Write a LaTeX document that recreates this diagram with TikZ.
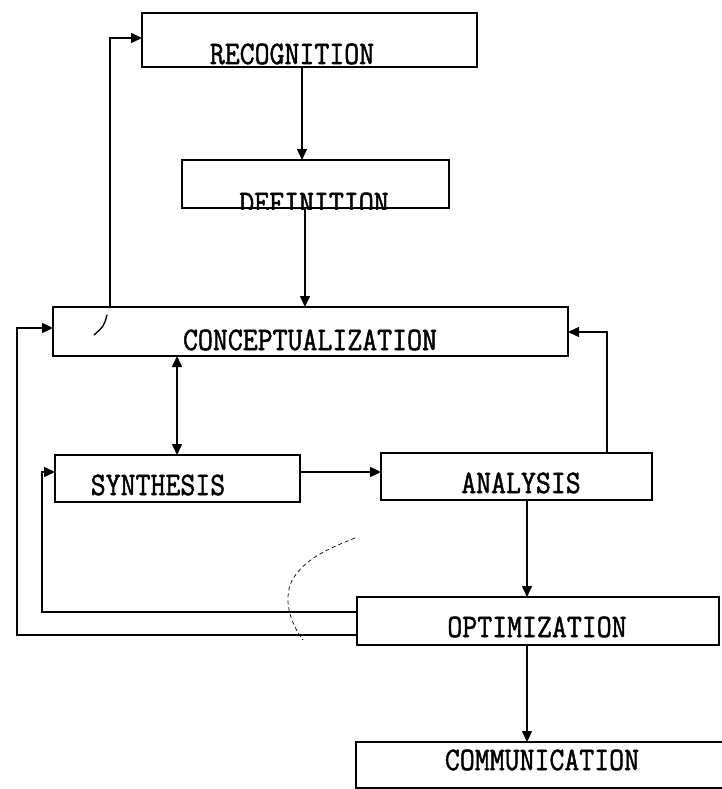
\documentclass[tikz,border=0pt]{standalone}
\usepackage{fontspec}
\usetikzlibrary{arrows.meta}
\newfontfamily\typerfont[FakeBold=1.6]{Latin Modern Mono}
\newcommand\boxlbl[1]{\scalebox{1}[1.13]{\fontsize{29}{30}\typerfont #1}}
\tikzset{
  stage/.style={draw, line width=1.7pt, inner sep=0pt, outer sep=0pt, rectangle},
  lbl/.style={anchor=base, inner sep=0pt},
  arr/.style={line width=1.5pt, -{Triangle[length=11pt,width=10pt]}},
  darr/.style={line width=1.5pt, {Triangle[length=11pt,width=10pt]}-{Triangle[length=11pt,width=10pt]}},
  mark stroke/.style={line width=1.3pt, line cap=round}
}
\begin{document}
\begin{tikzpicture}[x=1pt,y=-1pt]
\useasboundingbox (0,0) rectangle (722,789);
\clip (0,0) rectangle (722,789);
% boxes
\node[stage, minimum width=335pt, minimum height=54pt] (rec) at (309.5,40) {};
\node[stage, minimum width=267pt, minimum height=48pt] (def) at (315.5,184) {};
\node[stage, minimum width=515pt, minimum height=49pt] (con) at (310.5,331.5) {};
\node[stage, minimum width=245pt, minimum height=47pt] (syn) at (177.5,478.5) {};
\node[stage, minimum width=271pt, minimum height=47pt] (ana) at (516.5,476.5) {};
\node[stage, minimum width=362pt, minimum height=48pt] (opt) at (538,621) {};
\node[stage, minimum width=374pt, minimum height=46pt] (com) at (543,765) {};
% labels
\node[lbl] (trec) at (292,64) {\boxlbl{RECOGNITION}};
\begin{scope}
  \clip (def.north west) rectangle ([yshift=-1pt]def.south east);
  \node[lbl] (tdef) at (314,213) {\boxlbl{DEFINITION}};
\end{scope}
\node[lbl] (tcon) at (310,350) {\boxlbl{CONCEPTUALIZATION}};
\node[lbl] (tsyn) at (158,495) {\boxlbl{SYNTHESIS}};
\node[lbl] (tana) at (521,493) {\boxlbl{ANALYSIS}};
\node[lbl] (topt) at (537,637) {\boxlbl{OPTIMIZATION}};
\node[lbl] (tcom) at (542,770) {\boxlbl{COMMUNICATION}};
% reference coordinates
\coordinate (x17) at (17,0);
\coordinate (x42) at (42,0);
\coordinate (x110) at (110,0);
\coordinate (x177) at (177,0);
\coordinate (x302) at (302,0);
\coordinate (x305) at (305,0);
\coordinate (x527) at (527,0);
\coordinate (x607) at (607,0);
\coordinate (y38) at (0,38);
\coordinate (y328) at (0,328);
\coordinate (y332) at (0,332);
\coordinate (y472) at (0,472);
\coordinate (y612) at (0,612);
\coordinate (y635) at (0,635);
% connectors
\draw[arr] (rec.south -| x302) -- (def.north -| x302);
\draw[arr] (def.south -| x305) -- (con.north -| x305);
\draw[arr] (con.north -| x110) |- (rec.west |- y38);
\draw[darr] (con.south -| x177) -- (syn.north -| x177);
\draw[arr] (syn.east |- y472) -- (ana.west |- y472);
\draw[arr] (ana.north -| x607) |- (con.east |- y332);
\draw[arr] (ana.south -| x527) -- (opt.north -| x527);
\draw[arr] (opt.west |- y612) -- (x42 |- y612) -- (x42 |- y472) -- (syn.west |- y472);
\draw[arr] (opt.west |- y635) -- (x17 |- y635) -- (x17 |- y328) -- (con.west |- y328);
\draw[arr] (opt.south -| x527) -- (com.north -| x527);
% stray pen marks
\draw[mark stroke] (107,315) .. controls (104,326) .. (94,335);
\draw[line width=0.7pt, dash pattern=on 4pt off 3pt] (355,538) .. controls (330,548) and (300,560) .. (290,585) .. controls (284,605) and (292,625) .. (303,640);
\end{tikzpicture}
\end{document}
